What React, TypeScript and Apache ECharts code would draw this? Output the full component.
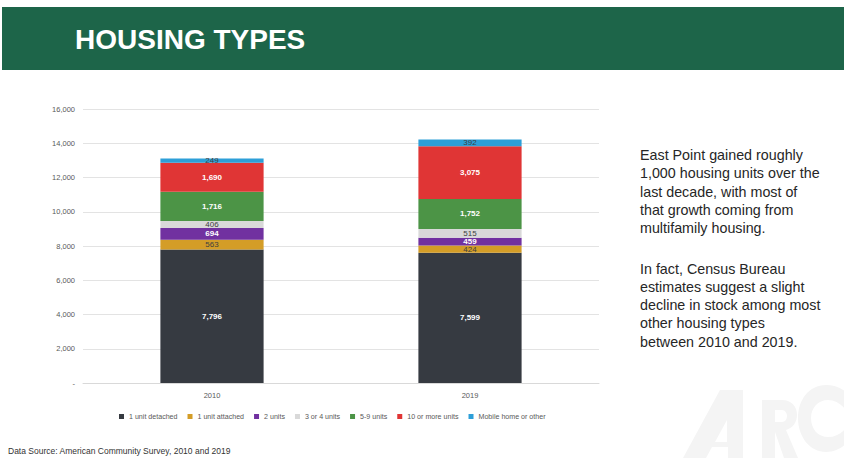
import React, { useEffect, useRef } from "react";
import * as echarts from "echarts";

const categories = ["2010", "2019"];
const seriesNames = [
  "1 unit detached",
  "1 unit attached",
  "2 units",
  "3 or 4 units",
  "5-9 units",
  "10 or more units",
  "Mobile home or other",
];
const detached = [7796, 7599];
const attached = [563, 424];
const twoUnits = [694, 459];
const threeFour = [406, 515];
const fiveNine = [1716, 1752];
const tenPlus = [1690, 3075];
const mobile = [249, 392];
const yTicks = [0, 2000, 4000, 6000, 8000, 10000, 12000, 14000, 16000];

const colors = ["#363a41", "#d49d27", "#7131a0", "#d9d9d9", "#4c9446", "#e03535", "#2d9fd8"];
const labelWhite = [true, false, true, false, true, true, false];

const bodyLines = [
  "East Point gained roughly",
  "1,000 housing units over the",
  "last decade, with most of",
  "that growth coming from",
  "multifamily housing.",
  "",
  "In fact, Census Bureau",
  "estimates suggest a slight",
  "decline in stock among most",
  "other housing types",
  "between 2010 and 2019.",
];

const logoPath =
  "M683,458 L720,390 L743,390 L743,458 L728,458 L728,447 L712,447 L706,458 Z " +
  "M727,420 L715,442 L727,442 Z " +
  "M762,458 L762,400 L782,400 C792,400 797,407 797,415 C797,422 793,428 786,430 L798,458 L784,458 L775,432 L775,458 Z " +
  "M775,410 L775,422 L782,422 C785,422 787,419 787,416 C787,413 785,410 782,410 Z " +
  "M846,392 C840,387 833,385 826,385 C809,385 798,400 798,418 C798,437 810,452 826,452 C834,452 840,449 846,444 L846,428 C841,434 835,437 828,437 C818,437 811,429 811,418 C811,408 818,400 828,400 C835,400 841,404 846,410 Z";

echarts.graphic.registerShape("arclogo", (echarts.graphic as any).extendPath(logoPath, {}));

export default function App() {
  const ref = useRef<HTMLDivElement>(null);
  useEffect(() => {
    if (!ref.current) return;
    const chart = echarts.init(ref.current, undefined, { renderer: "svg" });
    const dataSets = [detached, attached, twoUnits, threeFour, fiveNine, tenPlus, mobile];
    const font = "'Liberation Sans', Arial, sans-serif";
    const series = dataSets.map((d, i) => ({
      name: seriesNames[i],
      type: "bar",
      stack: "total",
      barWidth: "40%",
      data: d,
      itemStyle: { color: colors[i] },
      label: {
        show: true,
        position: "inside",
        fontFamily: font,
        fontSize: 8,
        lineHeight: 8,
        fontWeight: labelWhite[i] ? "bold" : "normal",
        color: labelWhite[i] ? "#ffffff" : "#404040",
        formatter: (p: any) => Number(p.value).toLocaleString("en-US"),
      },
    }));
    const graphics: any[] = [
      { type: "rect", shape: { x: 2, y: 7, width: 842, height: 63 }, style: { fill: "#1d6549" }, silent: true },
      {
        type: "text",
        x: 75,
        y: 39,
        style: {
          text: "HOUSING TYPES",
          fill: "#ffffff",
          font: "bold 28px 'Liberation Sans', Arial, sans-serif",
          verticalAlign: "middle",
        },
      },
      { type: "arclogo", x: 0, y: 0, style: { fill: "#f4f4f4" }, silent: true, z: -1 },
      {
        type: "text",
        x: 8,
        y: 451,
        style: {
          text: "Data Source: American Community Survey, 2010 and 2019",
          fill: "#333333",
          font: "8.5px 'Liberation Sans', Arial, sans-serif",
          verticalAlign: "middle",
        },
      },
    ];
    let y = 155;
    bodyLines.forEach((line) => {
      if (line === "") {
        y += 22;
        return;
      }
      graphics.push({
        type: "text",
        x: 640,
        y,
        style: {
          text: line,
          fill: "#262626",
          font: "14.3px 'Liberation Sans', Arial, sans-serif",
          verticalAlign: "middle",
        },
      });
      y += 18.3;
    });
    chart.setOption({
      animation: false,
      backgroundColor: "#ffffff",
      grid: { left: 83, right: 245, top: 109, bottom: 75, containLabel: false },
      legend: {
        data: seriesNames,
        left: 114,
        top: 408,
        itemWidth: 5,
        itemHeight: 5,
        itemGap: 10,
        icon: "rect",
        textStyle: { fontFamily: font, fontSize: 7.1, color: "#595959" },
      },
      xAxis: {
        type: "category",
        data: categories,
        axisLine: { show: true, lineStyle: { color: "#d9d9d9" } },
        axisTick: { show: false },
        axisLabel: { fontFamily: font, fontSize: 7.5, color: "#595959", margin: 8 },
      },
      yAxis: {
        type: "value",
        min: yTicks[0],
        max: yTicks[yTicks.length - 1],
        interval: 2000,
        axisLine: { show: false },
        axisTick: { show: false },
        splitLine: { lineStyle: { color: "#e3e3e3" } },
        axisLabel: {
          fontFamily: font,
          fontSize: 7.5,
          color: "#595959",
          margin: 8,
          formatter: (v: number) => (v === 0 ? "-" : v.toLocaleString("en-US")),
        },
      },
      series,
      graphic: graphics,
    } as any);
    return () => chart.dispose();
  }, []);
  return <div ref={ref} style={{ position: "fixed", left: 0, top: 0, width: 844, height: 458 }} />;
}
